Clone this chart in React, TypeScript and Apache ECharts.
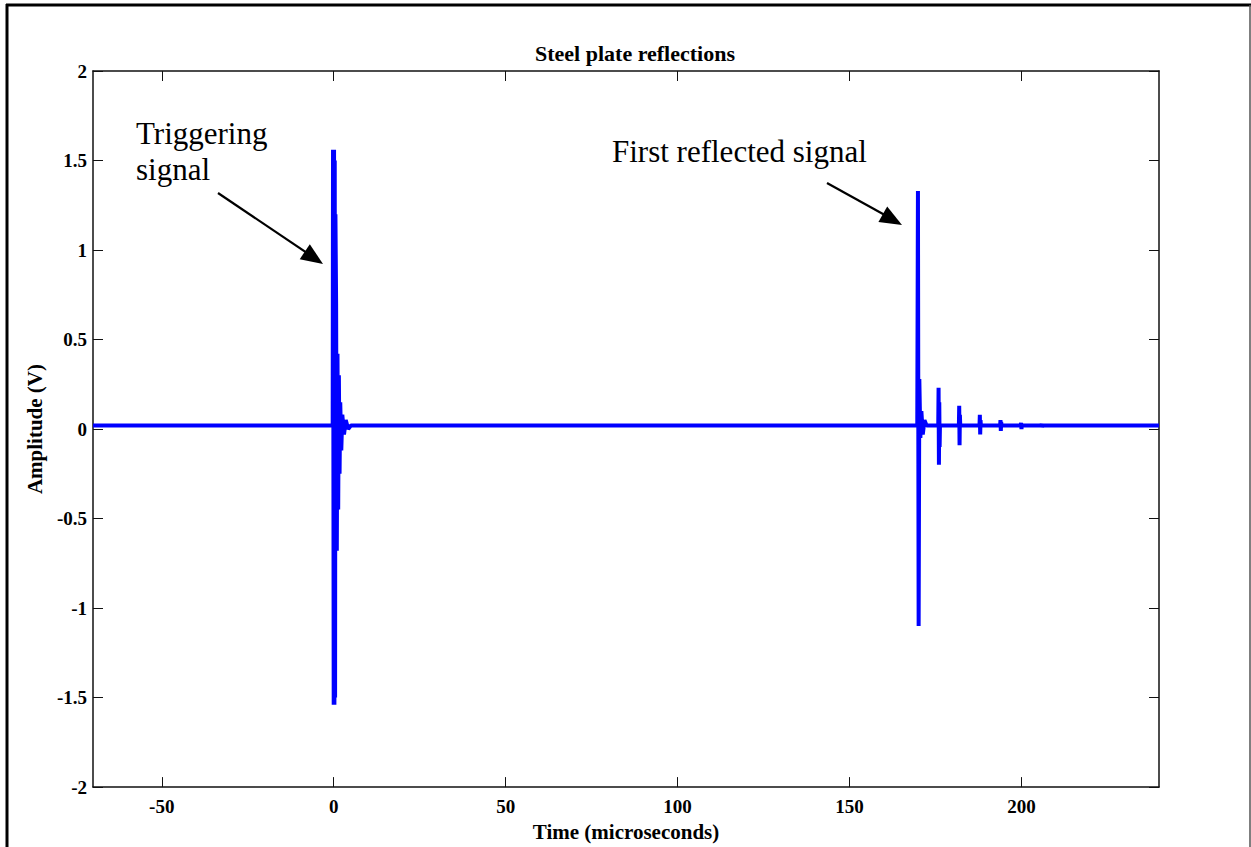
import React, { useEffect, useRef } from "react";
import * as echarts from "echarts";

// ---- data ----
const xTickValues = [-50, 0, 50, 100, 150, 200];
const yTickValues = [-2, -1.5, -1, -0.5, 0, 0.5, 1, 1.5, 2];

const baselineLevel = 0.02;

const triggerTimes = [-0.3, -0.2, 0.0, 0.1, 0.2, 0.3, 0.4, 0.5, 0.7, 0.9, 1.1, 1.3, 1.5, 1.7, 1.9, 2.2, 2.5, 3.0, 3.5, 4.2, 5.0];
const triggerAmps = [0.02, 1.56, -1.54, 1.56, -1.54, 1.5, -1.5, 1.2, 0.7, -0.68, 0.42, -0.45, 0.3, -0.25, 0.15, -0.12, 0.08, -0.03, 0.05, 0.0, 0.02];

const reflectTimes = [
  169.7, 169.9, 170.1, 170.3, 170.6, 170.9, 171.3, 171.8, 172.4,
  175.8, 175.9, 176.0, 176.1, 176.2, 176.3,
  181.8, 181.9, 182.0, 182.1, 182.2,
  187.8, 187.9, 188.0, 188.1, 188.2,
  193.8, 193.9, 194.0, 194.1, 194.2,
  199.8, 199.9, 200.0, 200.1,
  205.8, 205.9, 206.0, 206.1,
];
const reflectAmps = [
  0.02, 1.33, -1.1, 0.28, -0.05, 0.1, -0.03, 0.05, 0.02,
  0.02, 0.23, -0.2, 0.15, -0.1, 0.02,
  0.02, 0.13, -0.09, 0.08, 0.02,
  0.02, 0.08, -0.03, 0.05, 0.02,
  0.02, 0.05, -0.01, 0.04, 0.02,
  0.02, 0.035, 0.0, 0.02,
  0.02, 0.03, 0.01, 0.02,
];

const xMin = -70;
const xMax = 240;

function arrowHead(sx: number, sy: number, tx: number, ty: number, len: number, half: number) {
  const dx = tx - sx;
  const dy = ty - sy;
  const l = Math.sqrt(dx * dx + dy * dy);
  const ux = dx / l;
  const uy = dy / l;
  const bx = tx - len * ux;
  const by = ty - len * uy;
  const nx = -uy;
  const ny = ux;
  return [
    [tx, ty],
    [bx + half * nx, by + half * ny],
    [bx - half * nx, by - half * ny],
  ];
}

export default function App() {
  const ref = useRef<HTMLDivElement>(null);

  useEffect(() => {
    document.body.style.margin = "0";
    if (!ref.current) return;
    const chart = echarts.init(ref.current, undefined, { renderer: "svg" });

    const data: number[][] = [];
    data.push([xMin, baselineLevel]);
    triggerTimes.forEach((t, i) => data.push([t, triggerAmps[i]]));
    reflectTimes.forEach((t, i) => data.push([t, reflectAmps[i]]));
    data.push([xMax, baselineLevel]);

    const font = "'Liberation Serif', 'Times New Roman', serif";
    const axisColor = "#111";

    const tick = (vals: number[]) => ({
      show: true,
      inside: true,
      length: 10,
      customValues: vals,
      lineStyle: { color: axisColor, width: 1 },
    });

    const trigArrow = { sx: 218, sy: 193, tx: 323, ty: 264 };
    const reflArrow = { sx: 827, sy: 183, tx: 902, ty: 225 };

    chart.setOption({
      animation: false,
      backgroundColor: "#fff",
      title: {
        text: "Steel plate reflections",
        left: 530,
        top: 37,
        textStyle: { fontFamily: font, fontWeight: "bold", fontSize: 22, color: "#000" },
      },
      grid: { left: 93, top: 71, width: 1066, height: 718, containLabel: false },
      xAxis: [
        {
          type: "value",
          min: xMin,
          max: xMax,
          position: "bottom",
          name: "Time (microseconds)",
          nameLocation: "middle",
          nameGap: 26,
          nameTextStyle: { fontFamily: font, fontWeight: "bold", fontSize: 21, color: "#000" },
          axisLine: { show: true, onZero: false, lineStyle: { color: axisColor, width: 1.5 } },
          axisTick: tick(xTickValues),
          axisLabel: {
            customValues: xTickValues,
            fontFamily: font,
            fontWeight: "bold",
            fontSize: 19,
            color: "#000",
            margin: 10,
          },
          splitLine: { show: false },
        },
        {
          type: "value",
          min: xMin,
          max: xMax,
          position: "top",
          axisLine: { show: true, onZero: false, lineStyle: { color: axisColor, width: 1.5 } },
          axisTick: tick(xTickValues),
          axisLabel: { show: false },
          splitLine: { show: false },
        },
      ],
      yAxis: [
        {
          type: "value",
          min: -2,
          max: 2,
          position: "left",
          name: "Amplitude (V)",
          nameLocation: "middle",
          nameGap: 48,
          nameTextStyle: { fontFamily: font, fontWeight: "bold", fontSize: 21, color: "#000" },
          axisLine: { show: true, onZero: false, lineStyle: { color: axisColor, width: 1.5 } },
          axisTick: tick(yTickValues),
          axisLabel: {
            customValues: yTickValues,
            fontFamily: font,
            fontWeight: "bold",
            fontSize: 19,
            color: "#000",
            margin: 6,
          },
          splitLine: { show: false },
        },
        {
          type: "value",
          min: -2,
          max: 2,
          position: "right",
          axisLine: { show: true, onZero: false, lineStyle: { color: axisColor, width: 1.5 } },
          axisTick: tick(yTickValues),
          axisLabel: { show: false },
          splitLine: { show: false },
        },
      ],
      series: [
        {
          type: "line",
          xAxisIndex: 0,
          yAxisIndex: 0,
          data,
          showSymbol: false,
          symbol: "none",
          lineStyle: { color: "#0000ff", width: 4 },
          itemStyle: { color: "#0000ff" },
          clip: true,
          z: 3,
        },
      ],
      graphic: [
        { type: "line", shape: { x1: 7, y1: 4, x2: 7, y2: 847 }, style: { stroke: "#000", lineWidth: 3 } },
        { type: "line", shape: { x1: 6, y1: 5, x2: 1251, y2: 5 }, style: { stroke: "#000", lineWidth: 3 } },
        { type: "line", shape: { x1: 1250, y1: 5, x2: 1250, y2: 847 }, style: { stroke: "#555", lineWidth: 1.5 } },
        {
          type: "text",
          left: 136,
          top: 115,
          style: {
            text: "Triggering\nsignal",
            fontFamily: font,
            fontSize: 31,
            lineHeight: 36,
            fill: "#000",
          },
        },
        {
          type: "text",
          left: 612,
          top: 136,
          style: {
            text: "First reflected signal",
            fontFamily: font,
            fontSize: 31,
            fill: "#000",
          },
        },
        {
          type: "line",
          shape: { x1: trigArrow.sx, y1: trigArrow.sy, x2: trigArrow.tx - 10, y2: trigArrow.ty - 7 },
          style: { stroke: "#000", lineWidth: 2.2 },
        },
        {
          type: "polygon",
          shape: { points: arrowHead(trigArrow.sx, trigArrow.sy, trigArrow.tx, trigArrow.ty, 22, 9) },
          style: { fill: "#000" },
        },
        {
          type: "line",
          shape: { x1: reflArrow.sx, y1: reflArrow.sy, x2: reflArrow.tx - 10, y2: reflArrow.ty - 6 },
          style: { stroke: "#000", lineWidth: 2.2 },
        },
        {
          type: "polygon",
          shape: { points: arrowHead(reflArrow.sx, reflArrow.sy, reflArrow.tx, reflArrow.ty, 22, 9) },
          style: { fill: "#000" },
        },
      ],
    });

    return () => chart.dispose();
  }, []);

  return <div ref={ref} style={{ width: 1251, height: 847 }} />;
}
